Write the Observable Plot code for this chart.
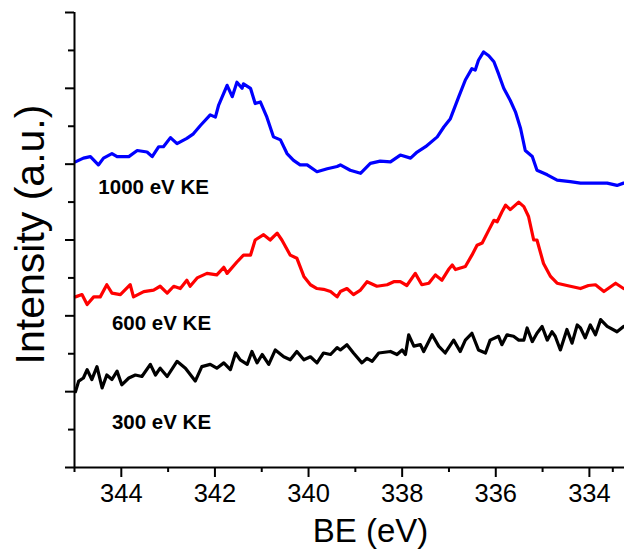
<!DOCTYPE html>
<html><head><meta charset="utf-8">
<script src="https://cdn.jsdelivr.net/npm/d3@7"></script>
<script src="https://cdn.jsdelivr.net/npm/@observablehq/plot@0.6"></script>
<style>body{margin:0;background:#fff}</style>
</head><body><div id="chart"></div>
<script>
// 1000 eV KE spectrum (blue)
const be1000 = [344.98,344.81,344.66,344.49,344.38,344.20,344.09,343.84,343.66,343.45,343.34,343.20,343.10,342.95,342.81,342.60,342.46,342.31,342.10,341.99,341.92,341.74,341.63,341.53,341.42,341.39,341.24,341.14,341.03,340.89,340.75,340.60,340.46,340.32,340.18,340.03,339.82,339.60,339.39,
339.32,339.11,338.89,338.68,338.47,338.25,338.04,337.82,337.68,337.50,337.25,337.11,336.97,336.79,336.65,336.51,336.44,336.37,336.26,336.15,336.04,335.94,335.83,335.69,335.58,335.47,335.37,335.22,335.12,334.90,334.69,334.41,334.19,333.91,333.62,333.41,333.27];
const int1000 = [403,408,410,399,408,414,410,410,418,416,410,423,423,435,427,434,440,451,465,462,478,504,489,508,500,506,500,480,482,462,436,432,414,405,399,399,390,394,397,
399,392,388,401,404,403,412,408,416,423,436,449,460,489,511,526,524,537,548,543,535,519,500,484,469,447,418,410,392,386,379,377,375,375,375,372,375];
// 600 eV KE spectrum (red)
const be600 = [344.98,344.84,344.73,344.59,344.45,344.31,344.20,344.02,343.81,343.74,343.52,343.31,343.17,343.02,342.88,342.74,342.60,342.53,342.38,342.17,341.96,341.81,341.74,341.53,341.39,341.24,341.14,340.96,340.82,340.67,340.57,340.39,340.25,340.10,339.96,339.82,339.68,339.53,339.39,
339.32,339.18,339.04,338.89,338.75,338.54,338.32,338.18,338.04,337.90,337.72,337.58,337.43,337.29,337.15,337.01,336.93,336.86,336.65,336.51,336.40,336.29,336.15,336.04,335.97,335.87,335.79,335.69,335.51,335.40,335.30,335.19,335.12,334.98,334.83,334.69,334.48,334.19,334.02,333.87,333.69,333.44,333.27];
const int600 = [225,228,215,225,225,241,230,228,241,225,232,234,239,230,239,236,247,239,250,256,254,264,256,271,280,280,300,307,300,309,300,280,276,252,241,236,235,232,225,
232,236,228,234,245,239,241,245,245,240,256,241,243,254,247,261,267,261,265,280,293,296,313,326,324,337,346,340,350,344,331,300,300,269,252,243,240,236,240,241,232,243,236];
// 300 eV KE spectrum (black)
const be300 = [344.98,344.91,344.81,344.73,344.63,344.52,344.41,344.31,344.20,344.09,343.99,343.84,343.70,343.56,343.38,343.27,343.17,343.02,342.81,342.63,342.42,342.28,342.10,341.96,341.81,341.67,341.56,341.46,341.31,341.21,341.10,340.99,340.85,340.71,340.53,340.39,340.25,340.10,339.96,339.82,339.68,339.53,339.39,
339.32,339.18,339.04,338.86,338.75,338.64,338.50,338.25,338.11,338.00,337.93,337.86,337.75,337.61,337.54,337.36,337.22,337.08,336.90,336.76,336.65,336.51,336.37,336.22,336.12,335.94,335.87,335.76,335.62,335.51,335.40,335.33,335.22,335.12,335.01,334.90,334.80,334.73,334.62,334.48,334.37,334.26,334.19,334.09,333.98,333.87,333.76,333.62,333.41,333.27];
const int300 = [100,114,118,129,116,133,105,122,116,127,109,118,122,120,136,122,131,120,140,131,114,133,136,131,138,129,151,142,136,153,138,149,136,155,146,142,153,142,146,138,151,149,158,
155,162,151,138,144,140,151,153,149,155,149,175,160,162,153,175,160,151,168,153,168,177,155,151,168,173,162,175,173,168,168,184,166,177,186,168,179,173,155,182,164,188,184,171,188,175,195,186,179,186];

const labelText = ["1000 eV KE", "600 eV KE", "300 eV KE"];
const labelBE = [344.49, 344.20, 344.20];
const labelInt = [361, 181, 51];

const xMajor = [344, 342, 340, 338, 336, 334];
const xMinor = [345, 343, 341, 339, 337, 335, 333.5];
const yMajor = [0, 100, 200, 300, 400, 500, 600];
const yMinor = [50, 150, 250, 350, 450, 550];

const toRows = (be, v) => be.map((b, i) => ({be: b, v: v[i]}));
const s1000 = toRows(be1000, int1000);
const s600 = toRows(be600, int600);
const s300 = toRows(be300, int300);
const labels = labelText.map((t, i) => ({text: t, be: labelBE[i], v: labelInt[i]}));

const chart = Plot.plot({
  width: 624, height: 554,
  marginLeft: 74, marginRight: 0, marginTop: 12, marginBottom: 87,
  style: {fontFamily: "'Liberation Sans', Arial, sans-serif", background: "#fff", color: "#000", overflow: "visible"},
  x: {domain: [345, 333.25], label: null},
  y: {domain: [0, 600], label: null},
  marks: [
    Plot.line(s1000, {x: "be", y: "v", stroke: "#0000ff", strokeWidth: 3.2, strokeLinejoin: "round"}),
    Plot.line(s600, {x: "be", y: "v", stroke: "#ff0000", strokeWidth: 3.2, strokeLinejoin: "round"}),
    Plot.line(s300, {x: "be", y: "v", stroke: "#000000", strokeWidth: 3.2, strokeLinejoin: "round"}),
    Plot.axisX(xMajor, {tickSize: 10, tickPadding: 6, fontSize: 25.5, strokeWidth: 2, label: null, tickFormat: d => String(d)}),
    Plot.axisX(xMinor.filter(d => d >= 333.25), {tickSize: 5, strokeWidth: 2, label: null, tickFormat: () => ""}),
    Plot.axisY(yMajor, {tickSize: 9, strokeWidth: 2, label: null, tickFormat: () => ""}),
    Plot.axisY(yMinor, {tickSize: 6, strokeWidth: 2, label: null, tickFormat: () => ""}),
    Plot.ruleX([345], {strokeWidth: 2}),
    Plot.ruleY([0], {strokeWidth: 2}),
    Plot.text(labels, {x: "be", y: "v", text: "text", textAnchor: "start", lineAnchor: "bottom", fontSize: 20.5, fontWeight: "bold"}),
    Plot.text(["BE (eV)"], {frameAnchor: "bottom", textAnchor: "middle", lineAnchor: "bottom", dx: 21, dy: 74.7, fontSize: 33}),
    Plot.text(["Intensity (a.u.)"], {frameAnchor: "left", textAnchor: "middle", lineAnchor: "middle", rotate: -90, dx: -44, dy: -5.5, fontSize: 41})
  ]
});
document.getElementById("chart").appendChild(chart);
</script>
</body></html>
